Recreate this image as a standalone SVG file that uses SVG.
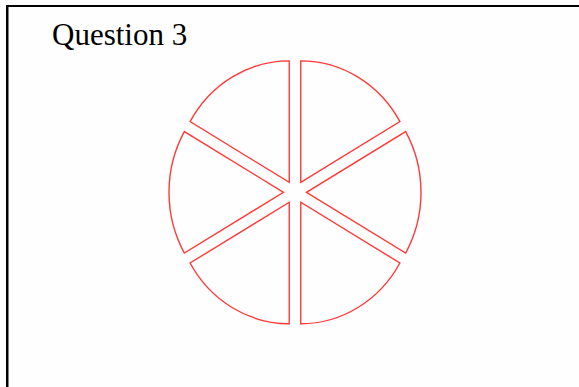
<svg xmlns="http://www.w3.org/2000/svg" width="579" height="387" viewBox="0 0 579 387">
<style>
.sector{fill:none;stroke:#ff3a3a;stroke-width:1.4;stroke-linejoin:miter}
.title{font-family:"Liberation Serif","Times New Roman",serif;font-size:31px;fill:#000}
</style>
<rect x="0" y="0" width="579" height="387" fill="#fefefe"/>
<rect x="6" y="5" width="573" height="2" fill="#000"/>
<rect x="6" y="5" width="2.5" height="382" fill="#000"/>
<text class="title" x="52" y="45">Question 3</text>
<g id="sector-right"><path class="sector" d="M306.5,192.3 L405.66,253.05 A114.5,121.5 0 0 0 405.66,131.55 Z"/></g>
<g id="sector-top-right"><path class="sector" d="M300.75,182.34 L399.91,121.59 A114.5,121.5 0 0 0 300.75,60.84 Z"/></g>
<g id="sector-top-left"><path class="sector" d="M289.25,182.34 L289.25,60.84 A114.5,121.5 0 0 0 190.09,121.59 Z"/></g>
<g id="sector-left"><path class="sector" d="M283.5,192.3 L184.34,131.55 A114.5,121.5 0 0 0 184.34,253.05 Z"/></g>
<g id="sector-bottom-left"><path class="sector" d="M289.25,202.26 L190.09,263.01 A114.5,121.5 0 0 0 289.25,323.76 Z"/></g>
<g id="sector-bottom-right"><path class="sector" d="M300.75,202.26 L300.75,323.76 A114.5,121.5 0 0 0 399.91,263.01 Z"/></g>
<g id="connectors"></g>
</svg>
